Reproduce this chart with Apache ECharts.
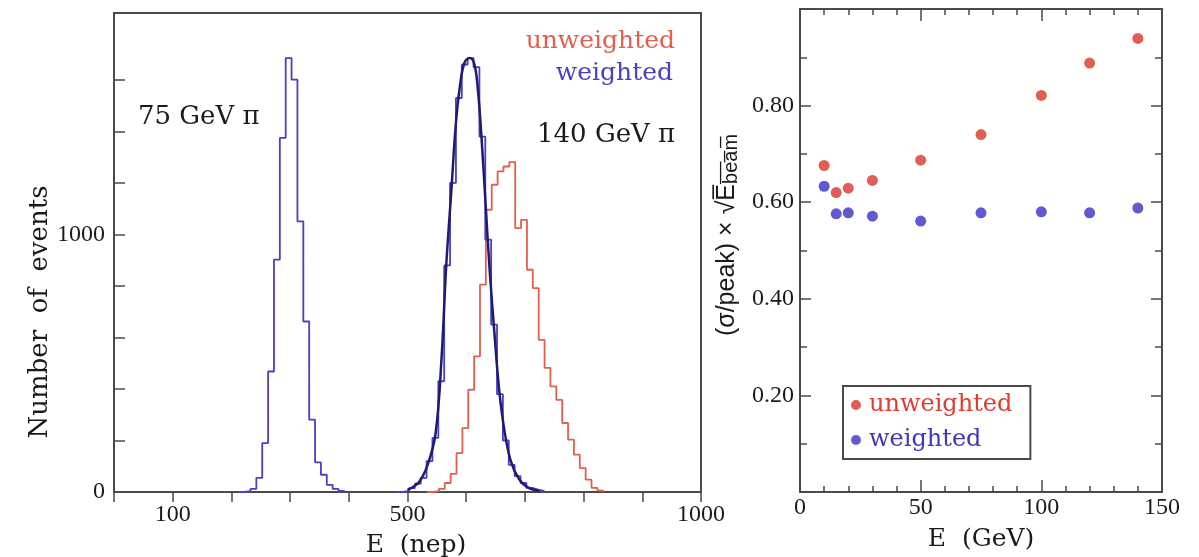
<!DOCTYPE html>
<html>
<head>
<meta charset="utf-8">
<script src="https://cdn.jsdelivr.net/npm/echarts@6.0.0/dist/echarts.min.js"></script>
<style>
  html, body { margin: 0; padding: 0; background: #fff; }
  #chart { width: 1199px; height: 557px; }
</style>
</head>
<body>
<div id="chart"></div>
<script>
// left panel: lower bin edges (nep) and counts
const E75 = [212.5, 222.5, 232.5, 242.5, 252.5, 262.5, 272.5, 282.5, 292.5, 302.5, 312.5, 322.5, 332.5, 342.5, 352.5, 362.5, 372.5, 382.5, 392.5];
const N75W = [0, 3, 12, 55, 190, 468, 902, 1375, 1685, 1601, 1051, 662, 281, 115, 67, 28, 12, 4, 0];

const E140W = [482.5, 492.5, 502.5, 512.5, 522.5, 532.5, 542.5, 552.5, 562.5, 572.5, 582.5, 592.5, 602.5, 612.5, 622.5, 632.5, 642.5, 652.5, 662.5, 672.5, 682.5, 692.5, 702.5, 712.5, 722.5, 732.5];
const N140W = [0, 4, 15, 32, 55, 120, 210, 430, 880, 1200, 1530, 1660, 1685, 1650, 1380, 980, 650, 380, 200, 105, 62, 35, 16, 9, 4, 0];

const E140U = [533.5, 543.5, 553.5, 563.5, 573.5, 583.5, 593.5, 603.5, 613.5, 623.5, 633.5, 643.5, 653.5, 663.5, 673.5, 683.5, 693.5, 703.5, 713.5, 723.5, 733.5, 743.5, 753.5, 763.5, 773.5, 783.5, 793.5, 803.5, 813.5, 823.5, 833.5];
const N140U = [0, 3, 12, 35, 70, 151, 248, 397, 527, 805, 1096, 1193, 1245, 1264, 1281, 1025, 1057, 863, 792, 591, 482, 410, 358, 268, 203, 145, 93, 48, 16, 5, 0];

// smooth curve drawn over the 140 GeV weighted histogram
const FIT_E = [500, 520, 535, 548, 558, 566, 575, 582, 589, 597, 606, 614, 620, 626, 633, 640, 648, 656, 665, 676, 690, 705, 725];
const FIT_N = [8, 40, 110, 230, 520, 880, 1180, 1420, 1570, 1666, 1685, 1660, 1560, 1380, 1120, 860, 620, 400, 240, 120, 50, 18, 4];

// left y ticks actually drawn (none at the top edge)
const COUNT_TICKS = [0, 200, 400, 600, 800, 1000, 1200, 1400, 1600];

// right panel: resolution vs beam energy
const E_GEV = [10, 15, 20, 30, 50, 75, 100, 120, 140];
const RES_UNW = [0.676, 0.620, 0.629, 0.645, 0.687, 0.740, 0.821, 0.888, 0.939];
const RES_W = [0.633, 0.576, 0.578, 0.571, 0.561, 0.578, 0.580, 0.578, 0.588];

const SERIF = 'Liberation Serif';
const WIDE_SERIF = 'DejaVu Serif';
const FRAME = '#4a4a4a';

const pairs = (xs, ys) => xs.map((x, i) => [x, ys[i]]);

const chart = echarts.init(document.getElementById('chart'));

const tickLabel = { fontFamily: SERIF, fontSize: 24, color: '#1a1a1a' };
const frameLine = { show: true, onZero: false, lineStyle: { color: FRAME, width: 2 } };
const tickStyle = { color: FRAME, width: 1.5 };

const histLine = (name, xs, ys, color, width) => ({
  name: name,
  type: 'line',
  xAxisIndex: 0,
  yAxisIndex: 0,
  step: 'end',
  showSymbol: false,
  silent: true,
  lineStyle: { color: color, width: width },
  itemStyle: { color: color },
  data: pairs(xs, ys)
});

const option = {
  animation: false,
  backgroundColor: '#fff',
  grid: [
    { left: 114, top: 13, width: 587, height: 479, outerBoundsMode: 'none', show: true, borderColor: FRAME, borderWidth: 2 },
    { left: 800, top: 9, width: 362, height: 483, outerBoundsMode: 'none', show: true, borderColor: FRAME, borderWidth: 2 }
  ],
  xAxis: [
    {
      gridIndex: 0, type: 'value', min: 0, max: 1000, interval: 100,
      axisLine: frameLine,
      axisTick: { show: true, inside: false, length: 10, lineStyle: tickStyle },
      splitLine: { show: false },
      axisLabel: Object.assign({}, tickLabel, {
        margin: 11,
        formatter: (v) => (v === 100 || v === 500 || v === 1000) ? String(v) : ''
      }),
      name: 'E  (nep)', nameLocation: 'middle', nameGap: 41,
      nameTextStyle: { fontFamily: WIDE_SERIF, fontSize: 25, color: '#1a1a1a', padding: [0, 0, 0, 17] }
    },
    {
      gridIndex: 1, type: 'value', min: 0, max: 150, interval: 50,
      axisLine: frameLine,
      axisTick: { show: true, inside: true, length: 12, lineStyle: tickStyle },
      minorTick: { show: true, splitNumber: 5, length: 6, lineStyle: tickStyle },
      splitLine: { show: false },
      axisLabel: Object.assign({}, tickLabel, { margin: 4 }),
      name: 'E  (GeV)', nameLocation: 'middle', nameGap: 35,
      nameTextStyle: { fontFamily: WIDE_SERIF, fontSize: 25, color: '#1a1a1a' }
    },
    {
      gridIndex: 1, type: 'value', position: 'top', min: 0, max: 150, interval: 50,
      axisLine: frameLine,
      axisTick: { show: true, inside: true, length: 12, lineStyle: tickStyle },
      minorTick: { show: true, splitNumber: 5, length: 6, lineStyle: tickStyle },
      splitLine: { show: false },
      axisLabel: { show: false }
    }
  ],
  yAxis: [
    {
      gridIndex: 0, type: 'value', min: 0, max: 1860, interval: 200,
      axisLine: frameLine,
      axisTick: { show: true, inside: true, length: 11, lineStyle: tickStyle, customValues: COUNT_TICKS },
      splitLine: { show: false },
      axisLabel: Object.assign({}, tickLabel, {
        margin: 9,
        formatter: (v) => (v === 0 || v === 1000) ? String(v) : ''
      })
    },
    {
      gridIndex: 1, type: 'value', min: 0, max: 1, interval: 0.2,
      axisLine: frameLine,
      axisTick: { show: true, inside: true, length: 11, lineStyle: tickStyle },
      minorTick: { show: true, splitNumber: 2, length: 7, lineStyle: tickStyle },
      splitLine: { show: false },
      axisLabel: Object.assign({}, tickLabel, {
        margin: 6,
        formatter: (v) => (v < 0.01 || v > 0.99) ? '' : v.toFixed(2)
      })
    },
    {
      gridIndex: 1, type: 'value', position: 'right', min: 0, max: 1, interval: 0.2,
      axisLine: frameLine,
      axisTick: { show: true, inside: true, length: 11, lineStyle: tickStyle },
      minorTick: { show: true, splitNumber: 2, length: 7, lineStyle: tickStyle },
      splitLine: { show: false },
      axisLabel: { show: false }
    }
  ],
  legend: {
    data: [
      { name: 'unweighted', textStyle: { color: '#e03c30' } },
      { name: 'weighted', textStyle: { color: '#4036b8' } }
    ],
    orient: 'vertical',
    left: 843,
    top: 386,
    icon: 'circle',
    itemWidth: 10,
    itemHeight: 10,
    itemGap: 11,
    padding: [7, 18, 7, 8],
    borderColor: FRAME,
    borderWidth: 2,
    backgroundColor: '#fff',
    selectedMode: false,
    textStyle: { fontFamily: WIDE_SERIF, fontSize: 24, padding: [0, 0, 0, 3] }
  },
  graphic: [
    {
      type: 'text', x: 40, y: 312, rotation: Math.PI / 2,
      style: { text: 'Number  of  events', fontFamily: WIDE_SERIF, fontSize: 26, fill: '#1a1a1a', textAlign: 'center', textVerticalAlign: 'middle' }
    },
    {
      type: 'text', x: 675, y: 41,
      style: { text: 'unweighted', fontFamily: WIDE_SERIF, fontSize: 25, fill: '#e0604c', textAlign: 'right', textVerticalAlign: 'middle' }
    },
    {
      type: 'text', x: 673, y: 73,
      style: { text: 'weighted', fontFamily: WIDE_SERIF, fontSize: 25, fill: '#4a40c4', textAlign: 'right', textVerticalAlign: 'middle' }
    },
    {
      type: 'text', x: 138, y: 117,
      style: { text: '75 GeV π', fontFamily: WIDE_SERIF, fontSize: 26, fill: '#1a1a1a', textAlign: 'left', textVerticalAlign: 'middle' }
    },
    {
      type: 'text', x: 537, y: 135,
      style: { text: '140 GeV π', fontFamily: WIDE_SERIF, fontSize: 26, fill: '#1a1a1a', textAlign: 'left', textVerticalAlign: 'middle' }
    },
    {
      type: 'text', x: 727, y: 235, rotation: Math.PI / 2,
      style: {
        text: '(σ/peak) × √{e|E̅}{s|b̅e̅a̅m̅}',
        fontFamily: 'Liberation Sans', fontSize: 25, fill: '#1a1a1a',
        textAlign: 'center', textVerticalAlign: 'middle',
        rich: {
          e: { fontFamily: 'Liberation Sans', fontSize: 25, fill: '#1a1a1a', lineHeight: 29 },
          s: { fontFamily: 'Liberation Sans', fontSize: 20, fill: '#1a1a1a', lineHeight: 29, verticalAlign: 'bottom' }
        }
      }
    }
  ],
  series: [
    histLine('75 GeV weighted', E75, N75W, '#4a40c4', 1.8),
    histLine('140 GeV unweighted', E140U, N140U, '#e0604c', 1.8),
    histLine('140 GeV weighted', E140W, N140W, '#4a40c4', 1.8),
    {
      name: '140 GeV fit',
      type: 'line',
      xAxisIndex: 0,
      yAxisIndex: 0,
      smooth: 0.4,
      showSymbol: false,
      silent: true,
      lineStyle: { color: '#201a70', width: 2.5 },
      data: pairs(FIT_E, FIT_N)
    },
    {
      name: 'unweighted',
      type: 'scatter',
      xAxisIndex: 1,
      yAxisIndex: 1,
      symbolSize: 11,
      itemStyle: { color: '#d9362a' },
      data: pairs(E_GEV, RES_UNW)
    },
    {
      name: 'weighted',
      type: 'scatter',
      xAxisIndex: 1,
      yAxisIndex: 1,
      symbolSize: 11,
      itemStyle: { color: '#3a30c4' },
      data: pairs(E_GEV, RES_W)
    }
  ]
};

chart.setOption(option);
</script>
</body>
</html>
